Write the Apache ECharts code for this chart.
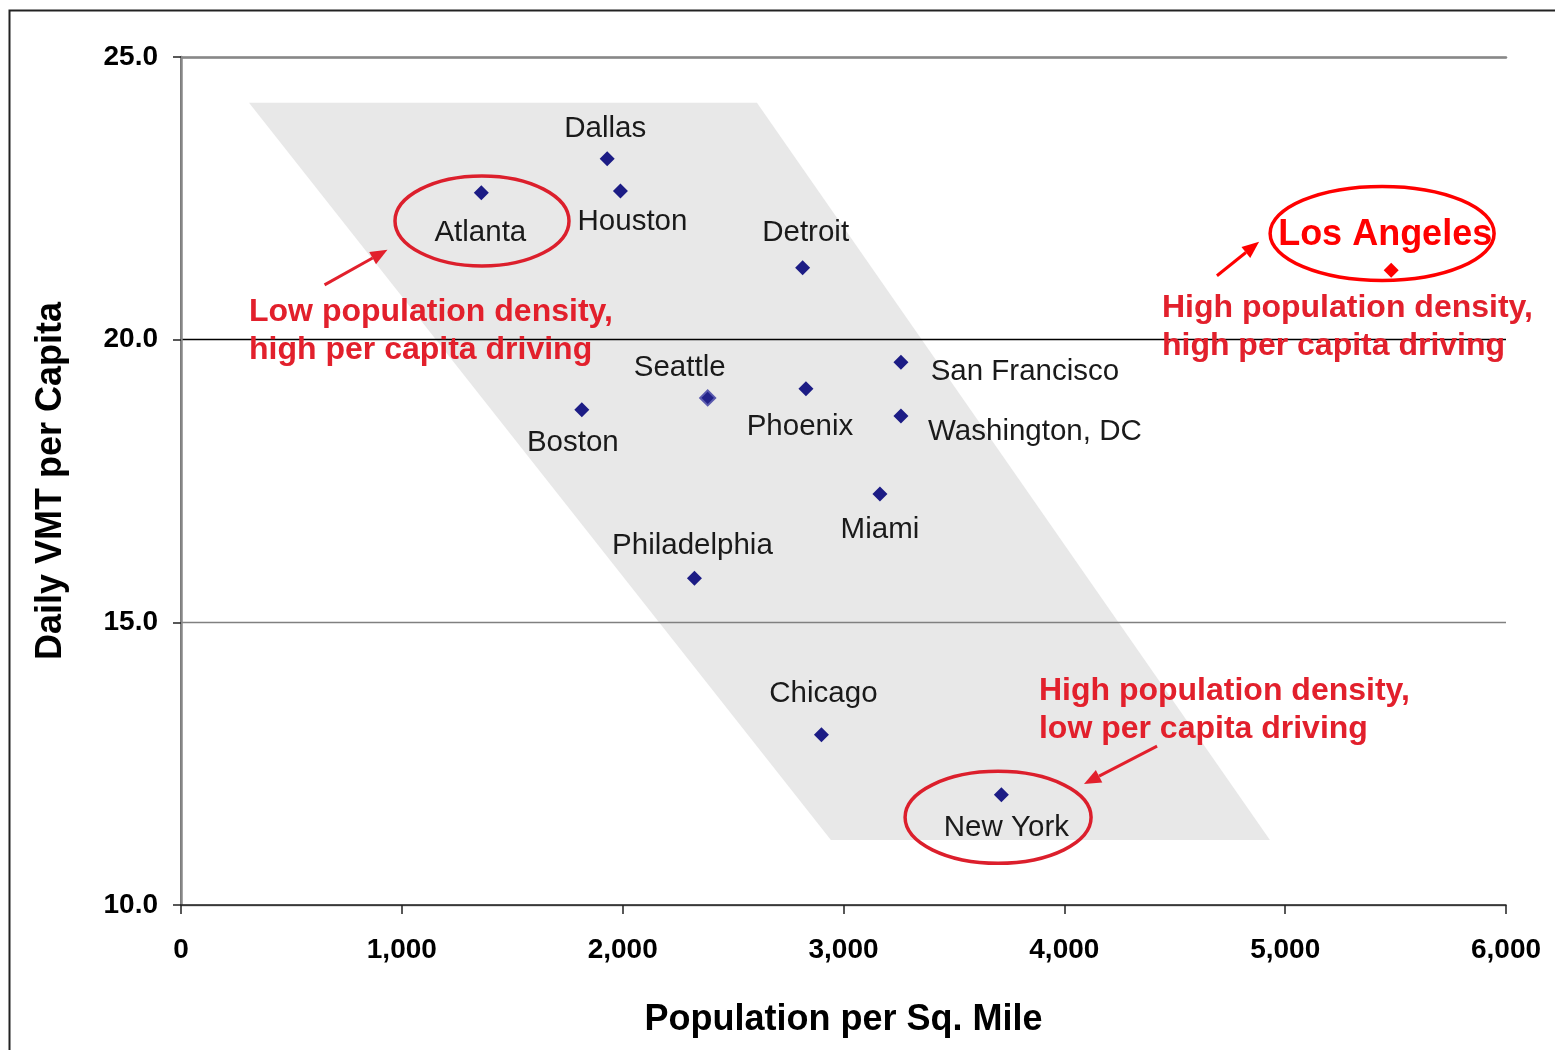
<!DOCTYPE html>
<html><head><meta charset="utf-8">
<script src="https://cdn.jsdelivr.net/npm/echarts@6/dist/echarts.min.js"></script>
<style>html,body{margin:0;padding:0;background:#fff}#c{width:1555px;height:1050px}</style>
</head><body><div id="c"></div>
<script>
// ---- data ----
const cities   = ['Dallas','Houston','Atlanta','Detroit','San Francisco','Phoenix','Seattle','Washington, DC','Boston','Miami','Philadelphia','Chicago','New York'];
const density  = [1930, 1990, 1360, 2815, 3260, 2830, 2385, 3260, 1815, 3165, 2325, 2900, 3715];
const vmt      = [23.20, 22.63, 22.60, 21.27, 19.60, 19.13, 18.97, 18.65, 18.76, 17.27, 15.78, 13.01, 11.95];
const outlierName    = 'Los Angeles';
const outlierDensity = 5480;
const outlierVmt     = 21.23;
const xTicks = [0, 1000, 2000, 3000, 4000, 5000, 6000];
const yTicks = [10, 15, 20, 25];
// shaded trend band corners (density, vmt)
const bandX = [308, 2608, 4931, 2943];
const bandY = [24.19, 24.19, 11.15, 11.15];
// highlight ellipses centres (density, vmt)
const ellipseX = [1363, 5439, 3700];
const ellipseY = [22.10, 21.88, 11.55];
// arrows: tail -> head (density, vmt)
const arrowTailX = [650, 4691, 4420];
const arrowTailY = [20.97, 21.13, 12.81];
const arrowHeadX = [935, 4882, 4089];
const arrowHeadY = [21.59, 21.73, 12.14];
// annotation texts and anchors (density, vmt)
const noteTexts = ['Low population density,\nhigh per capita driving','High population density,\nhigh per capita driving','High population density,\nlow per capita driving'];
const noteX = [308, 4442, 3885];
const noteY = [20.15, 20.22, 13.44];

// ---- styling / layout (not data) ----
const FONT = '"Liberation Sans", Arial, sans-serif';
const labelOffset = {
  'Dallas':[-2,-30],'Houston':[12,31],'Atlanta':[-1,40],'Detroit':[3,-35],
  'San Francisco':[124,10],'Phoenix':[-6,38],'Seattle':[-28,-30],'Washington, DC':[134,16],
  'Boston':[-9,33],'Miami':[0,36],'Philadelphia':[-2,-32],'Chicago':[2,-41],'New York':[5,33],
  'Los Angeles':[-6,-35]
};
const ellipseR = [[87,45],[112,47],[93,46]];
const ellipseColor = ['#dc1f2c','#ff0000','#dc1f2c'];
const arrowColor = ['#e2202c','#ff0000','#e2202c'];
const RED = '#e2202c';
const NAVY = '#1c1c85';

const chart = echarts.init(document.getElementById('c'), null, {renderer:'canvas'});

const cityData = cities.map((n,i)=>{
  const item = {name:n, value:[density[i], vmt[i]], label:{offset:labelOffset[n]}};
  if (n === 'Seattle') item.itemStyle = {color:'#22228a', borderColor:'#5a5aae', borderWidth:2, opacity:1};
  return item;
});

const option = {
  animation:false,
  backgroundColor:'#fff',
  graphic:[{type:'rect', left:7, top:8, shape:{x:0,y:0,width:1600,height:1100}, style:{fill:'none', stroke:'#222', lineWidth:2}, z:100}],
  grid:{left:181, right:49, top:57, bottom:145, containLabel:false},
  xAxis:[{
    type:'value', min:xTicks[0], max:xTicks[xTicks.length-1], interval:1000,
    name:'Population per Sq. Mile', nameLocation:'middle', nameGap:97,
    nameTextStyle:{fontFamily:FONT, fontSize:36, fontWeight:'bold', color:'#000'},
    axisLine:{show:true, lineStyle:{color:'#222', width:1.5}},
    axisTick:{show:true, length:9, lineStyle:{color:'#222', width:1.5}},
    axisLabel:{margin:31, fontFamily:FONT, fontSize:28, fontWeight:'bold', color:'#000',
      formatter:v=>v.toLocaleString('en-US')},
    splitLine:{show:false}
  },{
    type:'value', position:'top', min:0, max:6000, interval:1000,
    axisLine:{show:true, lineStyle:{color:'#888', width:2.5}}, axisTick:{show:false}, axisLabel:{show:false}, splitLine:{show:false}
  }],
  yAxis:[{
    type:'value', min:yTicks[0], max:yTicks[yTicks.length-1], interval:5,
    name:'Daily VMT per Capita', nameLocation:'middle', nameGap:112, nameRotate:90,
    nameTextStyle:{fontFamily:FONT, fontSize:36, fontWeight:'bold', color:'#000'},
    axisLine:{show:true, lineStyle:{color:'#222', width:1.5}},
    axisTick:{show:true, length:8, lineStyle:{color:'#222', width:1.5}},
    axisLabel:{margin:23, fontFamily:FONT, fontSize:28, fontWeight:'bold', color:'#000',
      padding:[3,0,0,0], formatter:v=>v.toFixed(1)},
    splitLine:{show:true, lineStyle:{color:['#808080','#808080','#000000','#808080'], width:1.3}}
  },{
    type:'value', position:'right', min:10, max:25, interval:5,
    axisLine:{show:true, lineStyle:{color:'#888', width:2.5}}, axisTick:{show:false}, axisLabel:{show:false}, splitLine:{show:false}
  }],
  series:[
    {
      type:'custom', name:'band', z:-1, silent:true,
      data:[[bandX[0], bandY[0]]],
      renderItem:(params, api)=>({
        type:'polygon',
        shape:{points:bandX.map((x,i)=>api.coord([x, bandY[i]]))},
        style:{fill:'#e8e8e8'}
      })
    },
    {
      type:'scatter', name:'cities', z:5,
      symbol:'diamond', symbolSize:15,
      itemStyle:{color:NAVY, opacity:1},
      label:{show:true, position:'inside', formatter:'{b}', fontFamily:FONT, fontSize:29.5, color:'#1a1a1a', opacity:1},
      data:cityData
    },
    {
      type:'scatter', name:outlierName, z:5,
      symbol:'diamond', symbolSize:15,
      itemStyle:{color:'#ff0000', opacity:1},
      label:{show:true, position:'inside', formatter:'{b}', offset:labelOffset[outlierName], fontFamily:FONT, fontSize:36, fontWeight:'bold', color:'#ff0000', opacity:1},
      data:[{name:outlierName, value:[outlierDensity, outlierVmt]}]
    },
    {
      type:'custom', name:'ellipses', z:6, silent:true,
      data:ellipseX.map((x,i)=>[x, ellipseY[i]]),
      renderItem:(params, api)=>{
        const c = api.coord([api.value(0), api.value(1)]);
        const r = ellipseR[params.dataIndex];
        return {type:'ellipse', shape:{cx:c[0], cy:c[1], rx:r[0], ry:r[1]},
          style:{fill:'none', stroke:ellipseColor[params.dataIndex], lineWidth:3.5}};
      }
    },
    {
      type:'custom', name:'arrows', z:6, silent:true,
      data:arrowTailX.map((x,i)=>[x, arrowTailY[i], arrowHeadX[i], arrowHeadY[i]]),
      renderItem:(params, api)=>{
        const t = api.coord([api.value(0), api.value(1)]);
        const h = api.coord([api.value(2), api.value(3)]);
        const ang = Math.atan2(h[1]-t[1], h[0]-t[0]);
        const L = 17, W = 7;
        const bx = h[0]-L*Math.cos(ang), by = h[1]-L*Math.sin(ang);
        const px = -Math.sin(ang)*W, py = Math.cos(ang)*W;
        const col = arrowColor[params.dataIndex];
        return {type:'group', children:[
          {type:'line', shape:{x1:t[0], y1:t[1], x2:bx, y2:by}, style:{stroke:col, lineWidth:3}},
          {type:'polygon', shape:{points:[[h[0],h[1]],[bx+px,by+py],[bx-px,by-py]]}, style:{fill:col}}
        ]};
      }
    },
    {
      type:'custom', name:'notes', z:7, silent:true,
      data:noteX.map((x,i)=>[x, noteY[i]]),
      renderItem:(params, api)=>{
        const p = api.coord([api.value(0), api.value(1)]);
        return {type:'text', x:p[0], y:p[1], style:{
          text:noteTexts[params.dataIndex], fill:RED, fontFamily:FONT, fontSize:32, fontWeight:'bold',
          lineHeight:38, align:'left', verticalAlign:'middle'}};
      }
    }
  ]
};
chart.setOption(option);
</script>
</body></html>
